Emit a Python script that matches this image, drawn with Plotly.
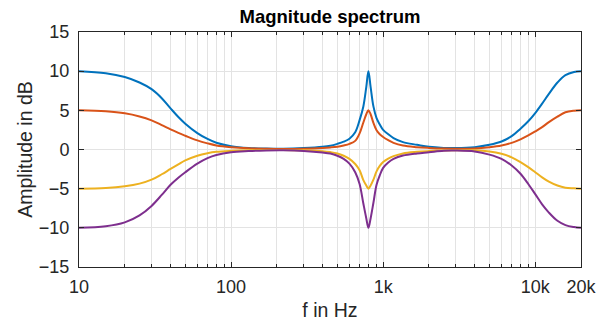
import plotly.graph_objects as go

# Frequencies (Hz) at which the curves were read
freq = [10, 15, 20, 25, 30, 35, 40, 45, 50, 60, 70, 80, 100, 130, 170, 220, 300, 400, 450,
        500, 550, 600, 655, 700, 741, 775, 800, 827, 863, 905, 950, 1000, 1080, 1170, 1350, 1670,
        2000, 2500, 3000, 4000, 5000, 6000, 7000, 8000, 9000, 10000, 11100, 12300, 14000, 15800, 18000, 20000]

# Magnitude (dB) for each of the four filter settings
gain_p10 = [10.0, 9.74, 9.25, 8.55, 7.7, 6.55, 5.25, 4.15, 3.3, 2.1, 1.35, 0.87, 0.43, 0.2, 0.12, 0.1, 0.18, 0.34, 0.48,
            0.72, 1.0, 1.38, 2.2, 3.75, 5.5, 8.0, 10.0, 8.0, 5.5, 4.0, 3.2, 2.5, 1.95, 1.45, 0.94, 0.6,
            0.34, 0.2, 0.18, 0.3, 0.6, 1.02, 1.7, 2.65, 3.6, 4.65, 5.85, 7.1, 8.55, 9.5, 9.9, 10.0]
gain_p5 = [5.0, 4.87, 4.62, 4.22, 3.72, 3.12, 2.56, 2.12, 1.76, 1.16, 0.78, 0.52, 0.3, 0.16, 0.1, 0.07, 0.1, 0.2, 0.27,
           0.36, 0.52, 0.72, 1.1, 2.05, 3.45, 4.5, 5.0, 4.5, 3.4, 2.45, 1.95, 1.6, 1.2, 0.85, 0.5, 0.3,
           0.2, 0.12, 0.1, 0.13, 0.3, 0.52, 0.85, 1.3, 1.8, 2.3, 2.85, 3.5, 4.2, 4.75, 4.95, 5.0]
gain_m5 = [-5.0, -4.92, -4.7, -4.36, -3.85, -3.16, -2.48, -1.9, -1.4, -0.8, -0.48, -0.3, -0.17, -0.09, -0.06, -0.05, -0.1, -0.22, -0.33,
           -0.5, -0.8, -1.2, -1.85, -2.65, -3.9, -4.6, -5.0, -4.6, -3.85, -2.8, -2.1, -1.6, -1.15, -0.85, -0.5, -0.3,
           -0.2, -0.12, -0.1, -0.1, -0.25, -0.55, -1.0, -1.6, -2.25, -2.9, -3.55, -4.1, -4.6, -4.87, -4.95, -5.0]
gain_m10 = [-10.0, -9.8, -9.3, -8.4, -7.2, -5.8, -4.5, -3.6, -2.9, -1.8, -1.1, -0.7, -0.35, -0.2, -0.12, -0.1, -0.18, -0.38, -0.52,
            -0.8, -1.2, -1.8, -2.9, -4.4, -6.9, -8.8, -10.0, -8.8, -6.8, -4.5, -3.3, -2.35, -1.65, -1.2, -0.77, -0.5,
            -0.35, -0.15, -0.13, -0.25, -0.65, -1.2, -2.05, -3.1, -4.4, -5.7, -7.0, -8.05, -9.1, -9.65, -9.9, -10.0]

series = [gain_p10, gain_p5, gain_m5, gain_m10]
colors = ["#0072BD", "#D95319", "#EDB120", "#7E2F8E"]

x_tickvals = [10, 100, 1000, 10000, 20000]
x_ticktext = ["10", "100", "1k", "10k", "20k"]
x_minor = [20, 30, 40, 50, 60, 70, 80, 90, 200, 300, 400, 500, 600, 700, 800, 900,
           2000, 3000, 4000, 5000, 6000, 7000, 8000, 9000]
y_tickvals = [-15, -10, -5, 0, 5, 10, 15]

fig = go.Figure()
for vals, col in zip(series, colors):
    fig.add_trace(go.Scatter(x=freq, y=vals, mode="lines",
                             line=dict(color=col, width=2, shape="spline", smoothing=1.0),
                             showlegend=False, hoverinfo="skip"))

axcol = "#262626"
gridcol = "#e3e3e3"
font = "Liberation Sans, Arial, Helvetica, sans-serif"

fig.update_layout(
    width=608, height=325,
    margin=dict(l=79, r=27, t=32, b=58, autoexpand=False),
    paper_bgcolor="white", plot_bgcolor="white",
    font=dict(family=font, size=18, color=axcol),
    title=dict(text="<b>Magnitude spectrum</b>", x=0.5, xref="paper", xanchor="center",
               y=1 - 17 / 325, yref="container", yanchor="middle",
               font=dict(family=font, size=18.5, color="#000000")),
    xaxis=dict(type="log", range=[1, 4.30103], tickmode="array", tickvals=x_tickvals, ticktext=x_ticktext,
               ticks="inside", ticklen=5, tickcolor=axcol, showline=True, linecolor=axcol, linewidth=1,
               mirror="allticks", showgrid=True, gridcolor=gridcol, gridwidth=1, zeroline=False,
               tickfont=dict(size=18, color=axcol), ticklabelstandoff=3, automargin=False,
               minor=dict(tickmode="array", tickvals=x_minor, ticks="inside", ticklen=3, tickcolor=axcol,
                          showgrid=True, gridcolor=gridcol, gridwidth=1),
               title=dict(text="f in Hz", font=dict(size=19.5, color=axcol), standoff=7)),
    yaxis=dict(range=[-15, 15], tickmode="array", tickvals=y_tickvals,
               ticks="inside", ticklen=5, tickcolor=axcol, showline=True, linecolor=axcol, linewidth=1,
               mirror="allticks", showgrid=True, gridcolor=gridcol, gridwidth=1, zeroline=False,
               tickfont=dict(size=18, color=axcol), ticklabelstandoff=5, automargin=False,
               title=dict(text="Amplitude in dB", font=dict(size=19.5, color=axcol), standoff=1)),
)

fig.write_html("out.html")
